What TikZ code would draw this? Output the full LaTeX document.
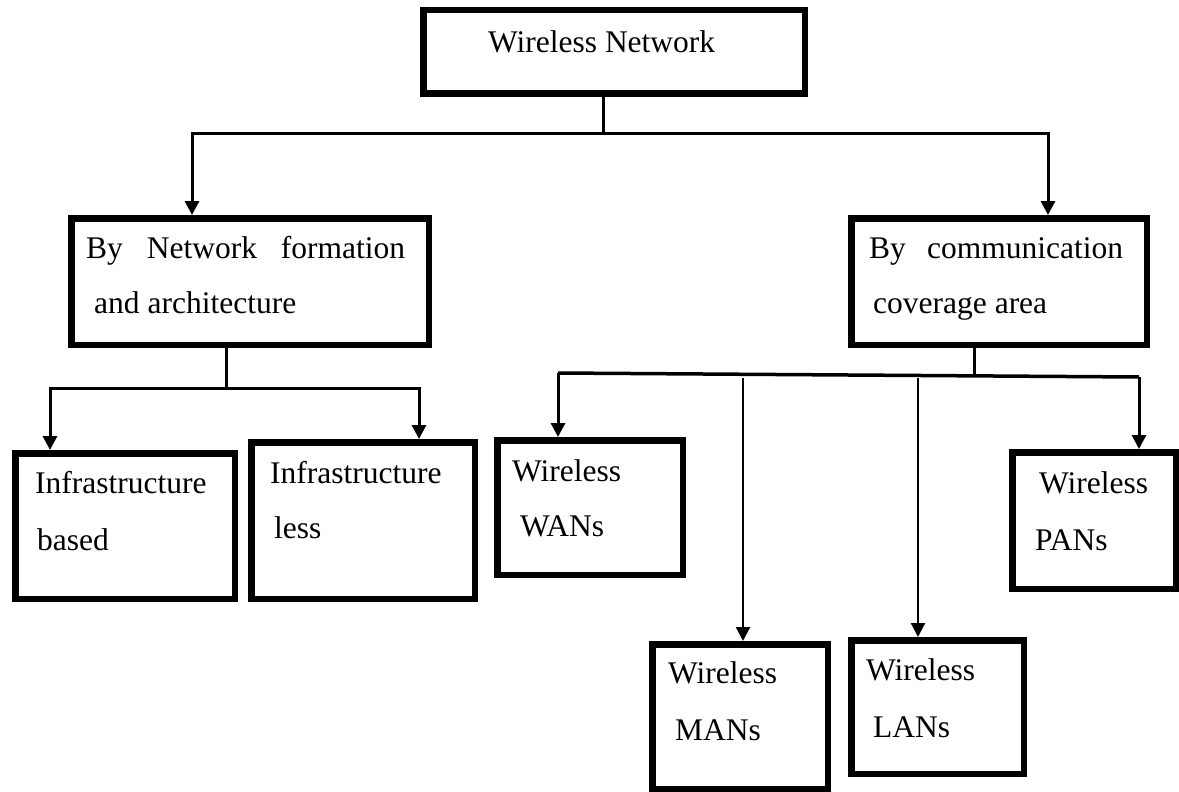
\documentclass[tikz,border=0pt]{standalone}
\usepackage{fontspec}
\setmainfont{Liberation Serif}
\usetikzlibrary{arrows.meta}
\tikzset{
  box/.style={draw=black, line width=6.5pt, inner sep=0pt, outer sep=3.25pt,
              anchor=north west, fill=white},
  txt/.style={inner sep=0pt, anchor=base west,
              font=\fontsize{31.5}{38}\selectfont},
  conn/.style={draw=black, line width=3pt},
  arr/.style={conn, -{Triangle[width=14pt,length=14pt]}},
  arrthin/.style={arr, line width=2.2pt},
}
\begin{document}
\begin{tikzpicture}[x=1pt, y=-1pt]
\fill[white] (0,0) rectangle (1179,792);
\useasboundingbox (0,0) rectangle (1179,792);

% boxes
\node[box, minimum width=381.5pt, minimum height=83.5pt]  (top) at (420,7) {};
\node[box, minimum width=357.5pt, minimum height=126.5pt] (nf)  at (68,215) {};
\node[box, minimum width=295.5pt, minimum height=126.5pt] (cc)  at (848,215) {};
\node[box, minimum width=219.5pt, minimum height=145.5pt] (ib)  at (12,450) {};
\node[box, minimum width=223.5pt, minimum height=156.5pt] (il)  at (248,439) {};
\node[box, minimum width=185.5pt, minimum height=134.5pt] (wan) at (494,437) {};
\node[box, minimum width=163.5pt, minimum height=136.5pt] (pan) at (1009,449) {};
\node[box, minimum width=175.5pt, minimum height=144.5pt] (man) at (649,641) {};
\node[box, minimum width=172.5pt, minimum height=133.5pt] (lan) at (848,637) {};

% labels
\node[txt] (t1)  at (488,53)  {Wireless Network};
\node[txt] (t2)  at (86,258)  {\hbox to 319pt{By\hfill Network\hfill formation}};
\node[txt] (t3)  at (94,313)  {and architecture};
\node[txt] (t4)  at (869,258) {\hbox to 254pt{By\hfill communication}};
\node[txt] (t5)  at (873,313) {coverage area};
\node[txt] (t6)  at (35,493)  {Infrastructure};
\node[txt] (t7)  at (37,550)  {based};
\node[txt] (t8)  at (270,483) {Infrastructure};
\node[txt] (t9)  at (274,538) {less};
\node[txt] (t10) at (512,481) {Wireless};
\node[txt] (t11) at (520,536) {WANs};
\node[txt] (t12) at (1039,493) {Wireless};
\node[txt] (t13) at (1035,550) {PANs};
\node[txt] (t14) at (668,683) {Wireless};
\node[txt] (t15) at (675,740) {MANs};
\node[txt] (t16) at (866,680) {Wireless};
\node[txt] (t17) at (873,737) {LANs};

% junction points
\coordinate (j1) at (603,133);
\coordinate (l1) at (192,133);
\coordinate (r1) at (1048,133);
\coordinate (j2) at (226,388);
\coordinate (l2) at (50,388);
\coordinate (r2) at (419,388);
\coordinate (j3) at (974,375);
\coordinate (bw) at (558,373);
\coordinate (be) at (1139,377);
\coordinate (bm) at (743,378);
\coordinate (bl) at (918,378);

% first level
\draw[conn] (top.south -| j1) -- (j1);
\draw[arr] (j1) -| (nf.north -| l1);
\draw[arr] (j1) -| (cc.north -| r1);

% by formation / architecture
\draw[conn] (nf.south -| j2) -- (j2);
\draw[arr] (j2) -| (ib.north -| l2);
\draw[arr] (j2) -| (il.north -| r2);

% by coverage area
\draw[conn] (cc.south -| j3) -- (j3);
\draw[conn, line width=3.5pt] (bw) -- (be);
\draw[arr] (bw) -- (bw |- wan.north);
\draw[arr] (be) -- (be |- pan.north);
\draw[arrthin] (bm) -- (bm |- man.north);
\draw[arrthin] (bl) -- (bl |- lan.north);
\end{tikzpicture}
\end{document}
